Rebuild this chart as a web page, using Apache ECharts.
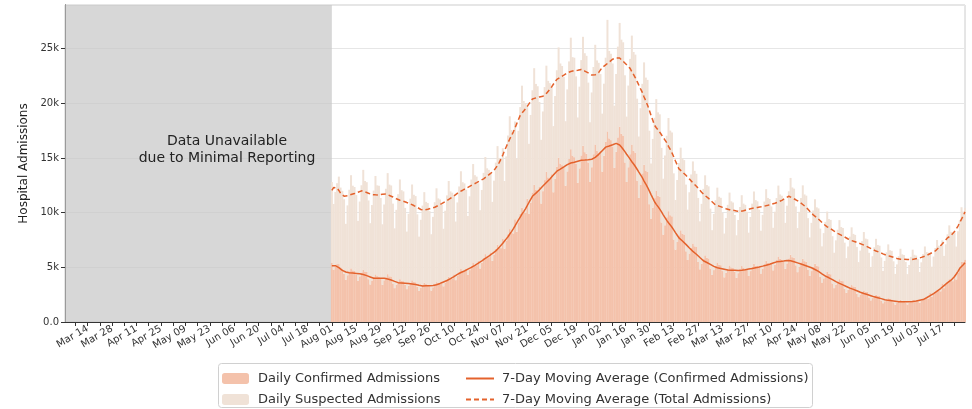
<!DOCTYPE html>
<html>
<head>
<meta charset="utf-8">
<script src="https://cdn.jsdelivr.net/npm/echarts@6/dist/echarts.min.js"></script>
<style>
  html, body { margin: 0; padding: 0; background: #fff; }
  #chart { width: 972px; height: 409px; }
</style>
</head>
<body>
<div id="chart"></div>
<script>
// axis span (daily categories) and first reported day
const axisStart = '2020-03-01';
const axisDays = 517;
const dataStart = '2020-08-01';

const yTicks = [0, 5000, 10000, 15000, 20000, 25000];

// daily confirmed admissions, one row per week starting Sat Aug 01 2020
const confirmed = [
  5400, 4800, 5100, 5300, 5300, 5000, 4900,
  4410, 3870, 4280, 4640, 4910, 4730, 4680,
  4310, 3780, 4180, 4530, 4800, 4620, 4580,
  3920, 3440, 3800, 4120, 4360, 4200, 4160,
  3950, 3400, 3820, 4100, 4380, 4180, 4170,
  3530, 3100, 3420, 3710, 3920, 3780, 3740,
  3430, 3010, 3330, 3610, 3820, 3680, 3640,
  3230, 2840, 3140, 3400, 3600, 3470, 3430,
  3280, 2880, 3180, 3450, 3650, 3520, 3480,
  3720, 3270, 3610, 3910, 4140, 3990, 3950,
  4360, 3830, 4230, 4580, 4850, 4670, 4630,
  4900, 4300, 4750, 5150, 5450, 5250, 5200,
  5590, 4900, 5420, 5870, 6210, 5990, 5930,
  6370, 5590, 6180, 6700, 7090, 6830, 6760,
  7640, 6710, 7410, 8030, 8500, 8190, 8110,
  9410, 8260, 9120, 9890, 10460, 10080, 9980,
  11270, 9890, 10930, 11850, 12540, 12080, 11960,
  12350, 10840, 11970, 12980, 13730, 13230, 13100,
  13520, 11870, 13110, 14210, 15040, 14490, 14350,
  14210, 12470, 13780, 14940, 15810, 15230, 15080,
  14500, 12730, 14060, 15240, 16130, 15540, 15390,
  14600, 12810, 14160, 15350, 16240, 15650, 15500,
  15680, 13760, 15200, 16480, 17440, 16800, 16640,
  16070, 14100, 15580, 16890, 17880, 17220, 17060,
  14600, 12810, 14160, 15350, 16240, 15650, 15500,
  12940, 11350, 12540, 13600, 14390, 13860, 13730,
  10780, 9460, 10450, 11330, 11990, 11550, 11440,
  9110, 8000, 8840, 9580, 10140, 9770, 9670,
  7550, 6620, 7320, 7930, 8390, 8090, 8010,
  6470, 5680, 6270, 6800, 7190, 6930, 6860,
  5490, 4820, 5320, 5770, 6100, 5880, 5820,
  4900, 4300, 4750, 5150, 5450, 5250, 5200,
  4660, 4090, 4510, 4890, 5180, 4990, 4940,
  4610, 4040, 4470, 4840, 5120, 4940, 4890,
  4800, 4210, 4660, 5050, 5340, 5150, 5100,
  5050, 4430, 4890, 5300, 5610, 5410, 5360,
  5390, 4730, 5230, 5670, 6000, 5780, 5720,
  5540, 4860, 5370, 5820, 6160, 5930, 5880,
  5190, 4560, 5040, 5460, 5780, 5570, 5510,
  4800, 4210, 4660, 5050, 5340, 5150, 5100,
  4120, 3610, 3990, 4330, 4580, 4410, 4370,
  3530, 3100, 3420, 3710, 3920, 3780, 3740,
  3040, 2670, 2950, 3190, 3380, 3260, 3220,
  2600, 2280, 2520, 2730, 2890, 2780, 2760,
  2250, 1980, 2190, 2370, 2510, 2420, 2390,
  1960, 1720, 1900, 2060, 2180, 2100, 2080,
  1810, 1590, 1760, 1910, 2020, 1940, 1920,
  1800, 1610, 1750, 1920, 2000, 1950, 1920,
  2010, 1760, 1950, 2110, 2230, 2150, 2130,
  2650, 2320, 2570, 2780, 2940, 2840, 2810,
  3530, 3100, 3420, 3710, 3920, 3780, 3740,
  4300, 3900, 4500, 5000, 5500, 5500, 5700
];

// daily suspected admissions, same days
const suspected = [
  7400, 6000, 6800, 7400, 8000, 7300, 7100,
  6820, 5110, 6390, 7460, 8520, 7740, 7670,
  7300, 5470, 6840, 7980, 9120, 8280, 8210,
  7200, 5600, 6900, 7900, 9000, 8300, 8300,
  7390, 5540, 6930, 8090, 9240, 8390, 8320,
  7300, 5470, 6840, 7980, 9120, 8280, 8210,
  7010, 5260, 6570, 7670, 8760, 7960, 7880,
  6620, 4970, 6210, 7250, 8280, 7520, 7450,
  6860, 5150, 6440, 7510, 8580, 7790, 7720,
  7010, 5260, 6570, 7670, 8760, 7960, 7880,
  7150, 5360, 6710, 7820, 8940, 8120, 8050,
  7200, 5400, 6750, 7880, 9000, 8180, 8100,
  7100, 5330, 6660, 7770, 8880, 8070, 7990,
  7200, 5400, 6750, 7880, 9000, 8180, 8100,
  8260, 6190, 7740, 9030, 10320, 9370, 9290,
  8930, 6700, 8370, 9770, 11160, 10140, 10040,
  8540, 6410, 8010, 9350, 10680, 9700, 9610,
  7780, 5830, 7290, 8510, 9720, 8830, 8750,
  8060, 6050, 7560, 8820, 10080, 9160, 9070,
  8200, 5900, 7500, 8900, 10200, 9000, 9100,
  7970, 5980, 7470, 8720, 9960, 9050, 8960,
  7300, 5470, 6840, 7980, 9120, 8280, 8210,
  7000, 5300, 6600, 7700, 10200, 8000, 7900,
  7580, 5690, 7110, 8300, 9480, 8610, 8530,
  7970, 5980, 7470, 8720, 9960, 9050, 8960,
  7490, 5620, 7020, 8190, 9360, 8500, 8420,
  6720, 5040, 6300, 7350, 8400, 7630, 7560,
  6820, 5110, 6390, 7460, 8520, 7740, 7670,
  6050, 4540, 5670, 6620, 7560, 6870, 6800,
  6100, 4600, 5600, 6700, 7500, 6900, 6700,
  5860, 4390, 5490, 6410, 7320, 6650, 6590,
  5470, 4100, 5130, 5990, 6840, 6210, 6160,
  5330, 4000, 5000, 5830, 6660, 6050, 5990,
  5180, 3890, 4860, 5670, 6480, 5890, 5830,
  5280, 3960, 4950, 5780, 6600, 6000, 5940,
  5230, 3920, 4910, 5720, 6540, 5940, 5890,
  5180, 3890, 4860, 5670, 6480, 5890, 5830,
  5620, 4210, 5270, 6140, 7020, 6380, 6320,
  5380, 4030, 5040, 5880, 6720, 6100, 6050,
  4700, 3530, 4410, 5150, 5880, 5340, 5290,
  4420, 3310, 4140, 4830, 5520, 5010, 4970,
  4320, 3240, 4050, 4730, 5400, 4910, 4860,
  4220, 3170, 3960, 4620, 5280, 4800, 4750,
  4270, 3200, 4010, 4670, 5340, 4850, 4810,
  4080, 3060, 3830, 4460, 5100, 4630, 4590,
  3940, 2950, 3690, 4310, 4920, 4470, 4430,
  3740, 2810, 3510, 4100, 4680, 4250, 4210,
  3700, 2770, 3470, 4040, 4620, 4200, 4160,
  3740, 2810, 3510, 4100, 4680, 4250, 4210,
  3650, 2740, 3420, 3990, 4560, 4140, 4100,
  3940, 2950, 3690, 4310, 4920, 4470, 4430,
  3900, 3000, 3800, 4300, 5000, 4600, 4700
];

const monthNames = ['Jan', 'Feb', 'Mar', 'Apr', 'May', 'Jun', 'Jul', 'Aug', 'Sep', 'Oct', 'Nov', 'Dec'];

// build daily category list
const dates = [];
const t0 = Date.parse(axisStart + 'T00:00:00Z');
for (let i = 0; i < axisDays; i++) {
  dates.push(new Date(t0 + i * 86400000).toISOString().slice(0, 10));
}
const offset = dates.indexOf(dataStart);

function pad(arr) {
  const out = new Array(offset).fill(null);
  return out.concat(arr);
}

// centred 7-day moving average
function movingAvg(arr) {
  return arr.map(function (v, i) {
    if (v == null) return null;
    let s = 0, n = 0;
    for (let j = i - 3; j <= i + 3; j++) {
      if (j >= 0 && j < arr.length && arr[j] != null) { s += arr[j]; n++; }
    }
    return Math.round(s / n);
  });
}

const total = confirmed.map(function (c, i) { return c + suspected[i]; });
const confData = pad(confirmed);
const suspData = pad(suspected);
const confMA = movingAvg(pad(confirmed));
const totalMA = movingAvg(pad(total));

const lineColor = '#e4622c';
const font = 'DejaVu Sans';

const chart = echarts.init(document.getElementById('chart'));
const option = {
  animation: false,
  textStyle: { fontFamily: font },
  grid: {
    left: 65, right: 7, top: 5, bottom: 87,
    show: true, borderColor: '#cccccc', borderWidth: 1
  },
  xAxis: {
    type: 'category',
    data: dates,
    boundaryGap: false,
    axisLine: { lineStyle: { color: '#333', width: 1 } },
    axisTick: {
      interval: function (i) { return i % 7 === 6; },
      length: 4,
      lineStyle: { color: '#333' }
    },
    axisLabel: {
      interval: function (i) { return i % 14 === 13; },
      rotate: 30,
      margin: 6,
      fontSize: 10,
      color: '#333',
      formatter: function (v) {
        return monthNames[+v.slice(5, 7) - 1] + ' ' + v.slice(8, 10);
      }
    },
    splitLine: { show: false }
  },
  yAxis: {
    type: 'value',
    min: 0,
    max: 29000,
    interval: 5000,
    name: 'Hospital Admissions',
    nameLocation: 'middle',
    nameGap: 34,
    nameTextStyle: { fontSize: 12, color: '#222' },
    axisLine: { show: true, lineStyle: { color: '#333', width: 1 } },
    axisTick: { show: true, length: 4, lineStyle: { color: '#333' } },
    axisLabel: {
      fontSize: 10,
      color: '#333',
      margin: 6,
      showMaxLabel: false,
      formatter: function (v) {
        if (yTicks.indexOf(v) < 0) return '';
        return v === 0 ? '0.0' : (v / 1000) + 'k';
      }
    },
    splitLine: { lineStyle: { color: '#e6e6e6', width: 1 } }
  },
  legend: [
    {
      data: ['Daily Confirmed Admissions', 'Daily Suspected Admissions'],
      orient: 'vertical',
      left: 222, top: 372,
      padding: 0,
      itemWidth: 27, itemHeight: 11, itemGap: 8,
      textStyle: { fontSize: 13, color: '#333', padding: [0, 0, 0, 4] }
    },
    {
      data: ['7-Day Moving Average (Confirmed Admissions)', '7-Day Moving Average (Total Admissions)'],
      orient: 'vertical',
      left: 465, top: 372,
      padding: 0,
      itemWidth: 28, itemHeight: 11, itemGap: 8,
      itemStyle: { opacity: 0 },
      textStyle: { fontSize: 13, color: '#333', padding: [0, 0, 0, 3] }
    }
  ],
  graphic: [
    {
      type: 'rect',
      z: -1,
      shape: { x: 218.5, y: 363.5, width: 594, height: 44, r: 3 },
      style: { fill: '#fff', stroke: '#d0d0d0', lineWidth: 1 }
    },
    {
      type: 'text',
      x: 227, y: 150,
      z: 10,
      style: {
        text: 'Data Unavailable\ndue to Minimal Reporting',
        fontSize: 14,
        fontFamily: font,
        fill: '#222',
        align: 'center',
        verticalAlign: 'middle',
        lineHeight: 17
      }
    }
  ],
  series: [
    {
      name: 'Daily Confirmed Admissions',
      type: 'bar',
      stack: 'adm',
      data: confData,
      barWidth: 2,
      itemStyle: { color: '#f4c2ab' }
    },
    {
      name: 'Daily Suspected Admissions',
      type: 'bar',
      stack: 'adm',
      data: suspData,
      barWidth: 2,
      itemStyle: { color: '#f0e2d7' }
    },
    {
      name: '7-Day Moving Average (Confirmed Admissions)',
      type: 'line',
      data: confMA,
      symbol: 'none',
      z: 5,
      lineStyle: { color: lineColor, width: 1.5 },
      itemStyle: { color: lineColor },
      markArea: {
        silent: true,
        itemStyle: { color: 'rgba(198,198,198,0.7)' },
        data: [[{ xAxis: axisStart }, { xAxis: dataStart }]]
      }
    },
    {
      name: '7-Day Moving Average (Total Admissions)',
      type: 'line',
      data: totalMA,
      symbol: 'none',
      z: 5,
      lineStyle: { color: lineColor, width: 1.5, type: [5, 3] },
      itemStyle: { color: lineColor }
    }
  ]
};
chart.setOption(option);

window.addEventListener('resize', function () {
  chart.resize();
});
</script>
</body>
</html>
